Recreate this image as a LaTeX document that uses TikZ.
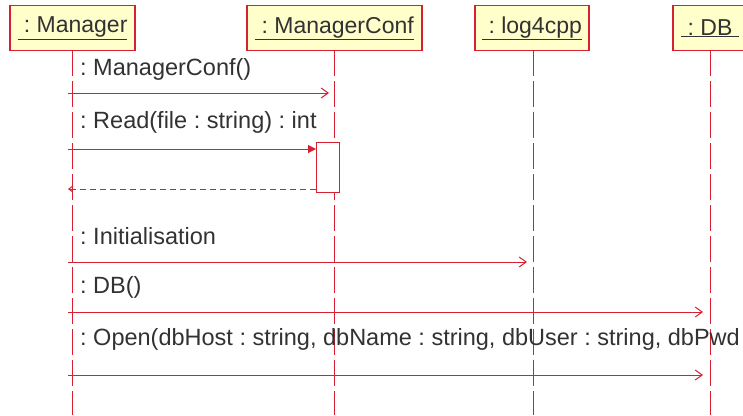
\documentclass[tikz,border=0pt]{standalone}
\usepackage{fontspec}
\setmainfont{Liberation Sans}
\usetikzlibrary{arrows.meta}
\definecolor{umlred}{RGB}{214,32,52}
\definecolor{umlfill}{RGB}{255,255,204}
\definecolor{umltext}{RGB}{50,50,50}
\frenchspacing
\tikzset{
  objbox/.style={draw=umlred, line width=1.2pt, fill=umlfill, minimum height=45pt,
    inner sep=0pt, font=\fontsize{23}{27}\selectfont, text=umltext, anchor=north},
  lifeline/.style={draw=umlred, line width=1pt, dash pattern=on 26pt off 5pt},
  msg/.style={draw=umlred, line width=1pt, -{Straight Barb[length=7pt,width=10pt]}},
  callmsg/.style={draw=umlred, line width=1pt, -{Triangle[length=8pt,width=8pt]}},
  retmsg/.style={draw=umlred, line width=1pt, dash pattern=on 6pt off 4pt,
    -{Straight Barb[length=4pt,width=6pt]}},
  msglabel/.style={anchor=west, inner sep=0pt, font=\fontsize{23.5}{27}\selectfont, text=umltext},
  actbox/.style={draw=umlred, line width=1.2pt, fill=white, inner sep=0pt}
}
\begin{document}
\begin{tikzpicture}[x=1pt,y=-1pt]
\useasboundingbox (0,0) rectangle (743,415);
\begin{scope}
\clip (0,0) rectangle (743,415);
% lifelines
\draw[lifeline] (72,50) -- (72,415);
\draw[lifeline] (334,50) -- (334,415);
\draw[lifeline] (533,50) -- (533,415);
\draw[lifeline] (710,50) -- (710,415);
% object boxes
\node[objbox, minimum width=125pt] (mgr) at (72.5,5) {\underline{\ : Manager}};
\node[objbox, minimum width=175pt] (conf) at (334.5,5) {\underline{\ : ManagerConf}};
\node[objbox, minimum width=114pt] (log) at (532,5) {\underline{\ : log4cpp}};
\node[objbox, minimum width=74pt] (db) at (710,5) {\underline{\ : DB\ }};
% activation of Read
\node[actbox, minimum width=23pt, minimum height=50pt, anchor=north west] (act) at (316,142) {};
% message end points
\coordinate (s1) at (68,93);   \coordinate (e1) at (329,93);
\coordinate (s2) at (68,149);
\coordinate (r2) at (68,189);
\coordinate (s4) at (68,262);  \coordinate (e4) at (527,262);
\coordinate (s5) at (68,312);  \coordinate (e5) at (703,312);
\coordinate (s6) at (68,375);  \coordinate (e6) at (703,375);
% messages
\draw[msg] (s1) -- (e1);
\draw[callmsg] (s2) -- (act.north west |- s2);
\draw[retmsg] (act.west |- r2) -- (r2);
\draw[msg] (s4) -- (e4);
\draw[msg] (s5) -- (e5);
\draw[msg] (s6) -- (e6);
% labels
\node[msglabel] (l1) at (80,69) {: ManagerConf()};
\node[msglabel] (l2) at (80,122) {: Read(file : string) : int};
\node[msglabel] (l4) at (80,236) {: Initialisation};
\node[msglabel] (l5) at (80,287) {: DB()};
\node[msglabel] (l6) at (80,339) {: Open(dbHost : string, dbName : string, dbUser : string, dbPwd};
\end{scope}
\end{tikzpicture}
\end{document}
